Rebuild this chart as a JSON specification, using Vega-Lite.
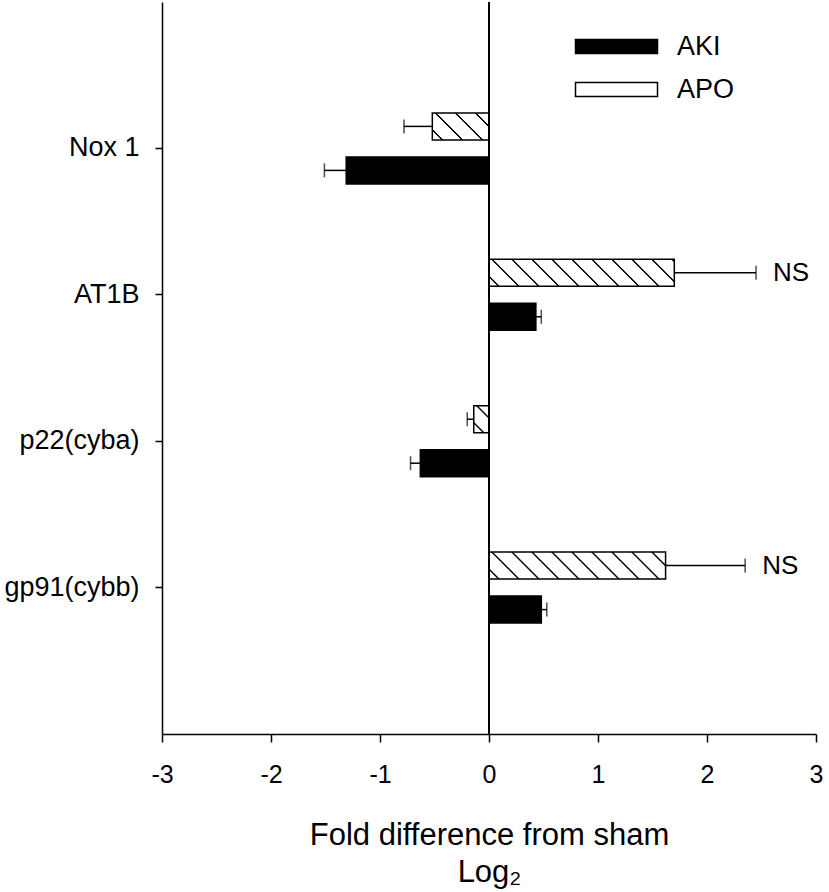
{
  "$schema": "https://vega.github.io/schema/vega-lite/v6.json",
  "width": 654,
  "height": 732,
  "autosize": {"type": "none"},
  "padding": {"left": 162, "top": 2, "right": 13, "bottom": 158},
  "background": "white",
  "data": {
    "values": [
      {"gene": "Nox 1", "group": "APO", "value": -0.52, "bound": -0.78, "note": ""},
      {"gene": "Nox 1", "group": "AKI", "value": -1.31, "bound": -1.51, "note": ""},
      {"gene": "AT1B", "group": "APO", "value": 1.70, "bound": 2.45, "note": "NS"},
      {"gene": "AT1B", "group": "AKI", "value": 0.43, "bound": 0.48, "note": ""},
      {"gene": "p22(cyba)", "group": "APO", "value": -0.14, "bound": -0.20, "note": ""},
      {"gene": "p22(cyba)", "group": "AKI", "value": -0.63, "bound": -0.72, "note": ""},
      {"gene": "gp91(cybb)", "group": "APO", "value": 1.62, "bound": 2.35, "note": "NS"},
      {"gene": "gp91(cybb)", "group": "AKI", "value": 0.48, "bound": 0.53, "note": ""}
    ]
  },
  "layer": [
    {
      "mark": {"type": "bar", "stroke": "black", "strokeWidth": 1.5},
      "encoding": {
        "x": {
          "field": "value", "type": "quantitative",
          "scale": {"domain": [-3, 3], "nice": false, "zero": false},
          "axis": {
            "values": [-3, -2, -1, 0, 1, 2, 3],
            "labelExpr": "datum.value < 0 ? '-' + abs(datum.value) : '' + datum.value",
            "tickSize": 8,
            "labelFontSize": 25,
            "labelPadding": 20,
            "labelFlush": false,
            "labelOverlap": false,
            "title": ["Fold difference from sham", "Log₂"],
            "titleFontSize": 31,
            "titleLineHeight": 37,
            "titleBaseline": "top",
            "titleY": 86.5
          }
        },
        "y": {
          "field": "gene", "type": "nominal",
          "scale": {"type": "band", "domain": ["Nox 1", "AT1B", "p22(cyba)", "gp91(cybb)"], "paddingInner": 0, "paddingOuter": 0.5},
          "axis": {"title": null, "labelFontSize": 27, "tickSize": 7, "labelPadding": 16}
        },
        "yOffset": {
          "field": "group", "type": "nominal",
          "scale": {"domain": ["APO", "AKI"], "paddingInner": 0.3864, "paddingOuter": 0.8568}
        },
        "fill": {
          "field": "group", "type": "nominal",
          "scale": {"domain": ["AKI", "APO"], "range": ["black", "white"]},
          "condition": [
            {"test": "datum.group === 'APO' && datum.gene === 'Nox 1'", "value": {"gradient": "linear", "x1": 0, "y1": 1, "x2": 1.2033, "y2": 0.4268, "stops": [
              {"offset": 0, "color": "white"},
              {"offset": 0.1028, "color": "white"}, {"offset": 0.1123, "color": "black"}, {"offset": 0.1267, "color": "black"}, {"offset": 0.1362, "color": "white"},
              {"offset": 0.3418, "color": "white"}, {"offset": 0.3513, "color": "black"}, {"offset": 0.3657, "color": "black"}, {"offset": 0.3752, "color": "white"},
              {"offset": 0.5808, "color": "white"}, {"offset": 0.5903, "color": "black"}, {"offset": 0.6047, "color": "black"}, {"offset": 0.6143, "color": "white"},
              {"offset": 0.8198, "color": "white"}, {"offset": 0.8294, "color": "black"}, {"offset": 0.8437, "color": "black"}, {"offset": 0.8533, "color": "white"},
              {"offset": 1, "color": "white"}
            ]}},
            {"test": "datum.group === 'APO' && datum.gene === 'AT1B'", "value": {"gradient": "linear", "x1": 0, "y1": 1, "x2": 1.1219, "y2": 0.8365, "stops": [
              {"offset": 0, "color": "white"},
              {"offset": 0.0405, "color": "white"}, {"offset": 0.0443, "color": "black"}, {"offset": 0.0499, "color": "black"}, {"offset": 0.0537, "color": "white"},
              {"offset": 0.1347, "color": "white"}, {"offset": 0.1385, "color": "black"}, {"offset": 0.1441, "color": "black"}, {"offset": 0.1479, "color": "white"},
              {"offset": 0.2289, "color": "white"}, {"offset": 0.2327, "color": "black"}, {"offset": 0.2383, "color": "black"}, {"offset": 0.2421, "color": "white"},
              {"offset": 0.3231, "color": "white"}, {"offset": 0.3269, "color": "black"}, {"offset": 0.3326, "color": "black"}, {"offset": 0.3363, "color": "white"},
              {"offset": 0.4173, "color": "white"}, {"offset": 0.4211, "color": "black"}, {"offset": 0.4268, "color": "black"}, {"offset": 0.4305, "color": "white"},
              {"offset": 0.5115, "color": "white"}, {"offset": 0.5153, "color": "black"}, {"offset": 0.5210, "color": "black"}, {"offset": 0.5247, "color": "white"},
              {"offset": 0.6058, "color": "white"}, {"offset": 0.6095, "color": "black"}, {"offset": 0.6152, "color": "black"}, {"offset": 0.6189, "color": "white"},
              {"offset": 0.7000, "color": "white"}, {"offset": 0.7037, "color": "black"}, {"offset": 0.7094, "color": "black"}, {"offset": 0.7131, "color": "white"},
              {"offset": 0.7942, "color": "white"}, {"offset": 0.7979, "color": "black"}, {"offset": 0.8036, "color": "black"}, {"offset": 0.8074, "color": "white"},
              {"offset": 0.8884, "color": "white"}, {"offset": 0.8921, "color": "black"}, {"offset": 0.8978, "color": "black"}, {"offset": 0.9016, "color": "white"},
              {"offset": 0.9826, "color": "white"}, {"offset": 0.9863, "color": "black"}, {"offset": 0.9920, "color": "black"}, {"offset": 0.9958, "color": "white"},
              {"offset": 1, "color": "white"}
            ]}},
            {"test": "datum.group === 'APO' && datum.gene === 'p22(cyba)'", "value": {"gradient": "linear", "x1": 0, "y1": 1, "x2": 0.6705, "y2": -0.1863, "stops": [
              {"offset": 0, "color": "white"},
              {"offset": 0.2035, "color": "white"}, {"offset": 0.2224, "color": "black"}, {"offset": 0.2508, "color": "black"}, {"offset": 0.2698, "color": "white"},
              {"offset": 0.6768, "color": "white"}, {"offset": 0.6957, "color": "black"}, {"offset": 0.7241, "color": "black"}, {"offset": 0.7430, "color": "white"},
              {"offset": 1, "color": "white"}
            ]}},
            {"test": "datum.group === 'APO' && datum.gene === 'gp91(cybb)'", "value": {"gradient": "linear", "x1": 0, "y1": 1, "x2": 1.1266, "y2": 0.8277, "stops": [
              {"offset": 0, "color": "white"},
              {"offset": 0.0422, "color": "white"}, {"offset": 0.0462, "color": "black"}, {"offset": 0.0521, "color": "black"}, {"offset": 0.0560, "color": "white"},
              {"offset": 0.1405, "color": "white"}, {"offset": 0.1444, "color": "black"}, {"offset": 0.1503, "color": "black"}, {"offset": 0.1542, "color": "white"},
              {"offset": 0.2387, "color": "white"}, {"offset": 0.2427, "color": "black"}, {"offset": 0.2486, "color": "black"}, {"offset": 0.2525, "color": "white"},
              {"offset": 0.3370, "color": "white"}, {"offset": 0.3409, "color": "black"}, {"offset": 0.3468, "color": "black"}, {"offset": 0.3507, "color": "white"},
              {"offset": 0.4352, "color": "white"}, {"offset": 0.4391, "color": "black"}, {"offset": 0.4450, "color": "black"}, {"offset": 0.4490, "color": "white"},
              {"offset": 0.5335, "color": "white"}, {"offset": 0.5374, "color": "black"}, {"offset": 0.5433, "color": "black"}, {"offset": 0.5472, "color": "white"},
              {"offset": 0.6317, "color": "white"}, {"offset": 0.6356, "color": "black"}, {"offset": 0.6415, "color": "black"}, {"offset": 0.6455, "color": "white"},
              {"offset": 0.7299, "color": "white"}, {"offset": 0.7339, "color": "black"}, {"offset": 0.7398, "color": "black"}, {"offset": 0.7437, "color": "white"},
              {"offset": 0.8282, "color": "white"}, {"offset": 0.8321, "color": "black"}, {"offset": 0.8380, "color": "black"}, {"offset": 0.8419, "color": "white"},
              {"offset": 0.9264, "color": "white"}, {"offset": 0.9304, "color": "black"}, {"offset": 0.9363, "color": "black"}, {"offset": 0.9402, "color": "white"},
              {"offset": 1, "color": "white"}
            ]}}
          ],
          "legend": {
            "orient": "none",
            "legendX": 441,
            "legendY": 31,
            "title": null,
            "padding": 0,
            "symbolType": "M-4.1,-0.7H4.1V0.7H-4.1Z",
            "symbolSize": 400,
            "symbolStrokeWidth": 1.5,
            "symbolStrokeColor": "black",
            "labelFontSize": 27,
            "labelOffset": 47,
            "rowPadding": 15
          }
        }
      }
    },
    {
      "mark": {"type": "rule", "stroke": "black", "strokeWidth": 1.5},
      "encoding": {
        "x": {"field": "value", "type": "quantitative"},
        "x2": {"field": "bound"},
        "y": {"field": "gene", "type": "nominal"},
        "yOffset": {"field": "group", "type": "nominal"}
      }
    },
    {
      "mark": {"type": "tick", "color": "black", "size": 14, "thickness": 1.5, "orient": "vertical"},
      "encoding": {
        "x": {"field": "bound", "type": "quantitative"},
        "y": {"field": "gene", "type": "nominal"},
        "yOffset": {"field": "group", "type": "nominal"}
      }
    },
    {
      "transform": [{"filter": "datum.note !== ''"}],
      "mark": {"type": "text", "align": "left", "baseline": "middle", "dx": 17, "fontSize": 26, "color": "black"},
      "encoding": {
        "x": {"field": "bound", "type": "quantitative"},
        "y": {"field": "gene", "type": "nominal"},
        "yOffset": {"field": "group", "type": "nominal"},
        "text": {"field": "note"}
      }
    },
    {
      "mark": {"type": "rule", "stroke": "black", "strokeWidth": 1.5},
      "encoding": {
        "x": {"datum": 0, "type": "quantitative"}
      }
    }
  ],
  "config": {
    "font": "Liberation Sans",
    "view": {"stroke": null},
    "axis": {
      "grid": false,
      "domainColor": "black",
      "domainWidth": 1.5,
      "tickColor": "black",
      "tickWidth": 1.5,
      "labelColor": "black",
      "titleColor": "black",
      "labelFont": "Liberation Sans",
      "titleFont": "Liberation Sans",
      "titleFontWeight": "normal"
    },
    "legend": {"labelFont": "Liberation Sans", "labelColor": "black"}
  }
}
